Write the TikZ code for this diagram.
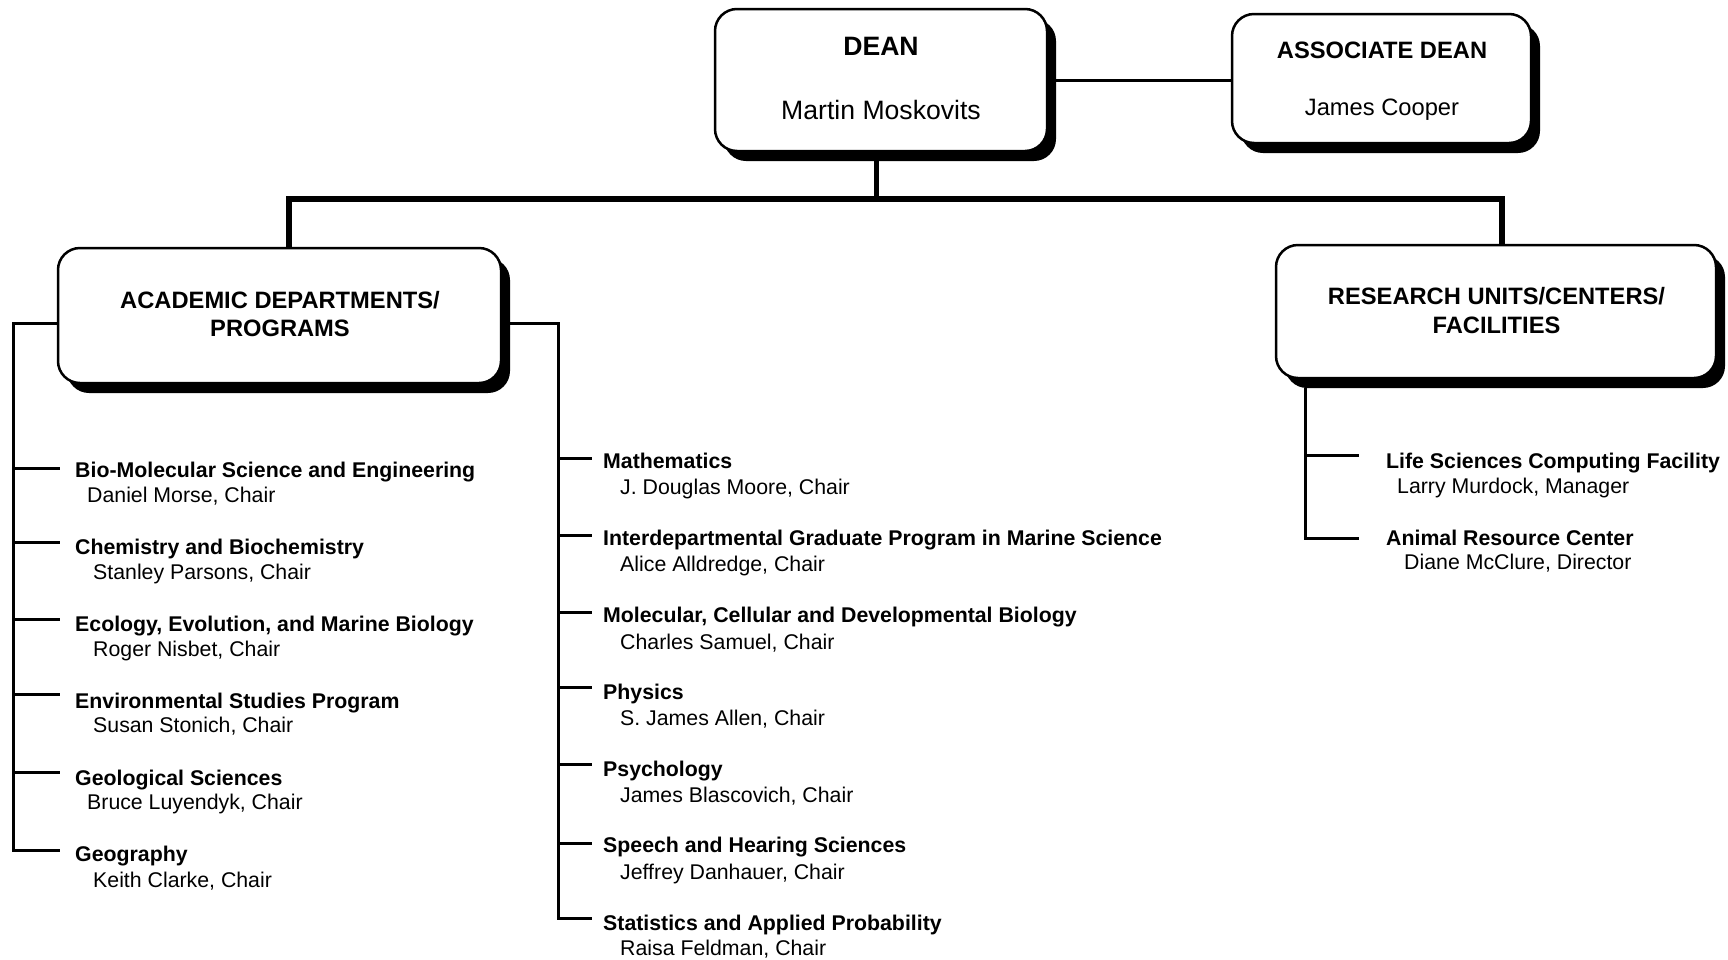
\documentclass[tikz,border=0pt]{standalone}
\usepackage{fontspec}
\setmainfont{Liberation Sans}
\usetikzlibrary{shadows}
\begin{document}
\begin{tikzpicture}[x=1pt,y=-1pt,
  box/.style={draw, line width=2.5pt, rounded corners=22pt, fill=white, inner sep=0pt,
    drop shadow={shadow xshift=9pt, shadow yshift=-10pt, opacity=1, fill=black}},
  dtitle/.style={anchor=base, inner sep=0pt, font=\fontsize{26.6}{30}\selectfont\bfseries},
  dname/.style={anchor=base, inner sep=0pt, font=\fontsize{26.6}{30}\selectfont},
  htitle/.style={anchor=base, inner sep=0pt, font=\fontsize{23.7}{28}\selectfont\bfseries},
  hname/.style={anchor=base, inner sep=0pt, font=\fontsize{23.7}{28}\selectfont},
  item/.style={anchor=base west, inner sep=0pt, font=\fontsize{21.3}{25}\selectfont\bfseries},
  sub/.style={anchor=base west, inner sep=0pt, font=\fontsize{21.3}{25}\selectfont},
  thin/.style={line width=3pt},
  thick/.style={line width=5.2pt}]
\fill[white] (0,0) rectangle (1728,959);
\useasboundingbox (0,0) rectangle (1728,959);

% boxes
\node[box, minimum width=332pt, minimum height=142pt] (dean) at (881,80) {};
\node[box, minimum width=299pt, minimum height=129pt] (assoc) at (1381.5,78.5) {};
\node[box, minimum width=443pt, minimum height=135pt] (acad) at (279.5,315.5) {};
\node[box, minimum width=440pt, minimum height=133pt] (res) at (1496,311.5) {};

% box texts
\node[dtitle] (deanT) at (881,55.5) {DEAN};
\node[dname] (deanN) at (881,119.5) {Martin Moskovits};
\node[htitle] (assocT) at (1382,58.5) {ASSOCIATE DEAN};
\node[hname] (assocN) at (1382,115.5) {James Cooper};
\node[htitle] (acadT1) at (280,308.5) {ACADEMIC DEPARTMENTS/};
\node[htitle] (acadT2) at (280,336.5) {PROGRAMS};
\node[htitle] (resT1) at (1496.5,304.5) {RESEARCH UNITS/CENTERS/};
\node[htitle] (resT2) at (1496.5,333.5) {FACILITIES};

% top connectors
\coordinate (bus) at (876.5,199);
\coordinate (busL) at (289,199);
\coordinate (busR) at (1502,199);
\draw[thin] (dean.east) -- (dean.east -| assoc.west);
\draw[thick] (dean.south -| bus) -- (bus);
\draw[thick, line cap=rect] (busL) -- (busR);
\draw[thick] (busL) -- (busL |- acad.north);
\draw[thick] (busR) -- (busR |- res.north);

% left column
\node[item] (l1) at (75,477) {Bio-Molecular Science and Engineering};
\node[sub] (l1s) at (87,502.4) {Daniel Morse, Chair};
\node[item] (l2) at (75,554) {Chemistry and Biochemistry};
\node[sub] (l2s) at (93,579.5) {Stanley Parsons, Chair};
\node[item] (l3) at (75,631) {Ecology, Evolution, and Marine Biology};
\node[sub] (l3s) at (93,656.6) {Roger Nisbet, Chair};
\node[item] (l4) at (75,708.5) {Environmental Studies Program};
\node[sub] (l4s) at (93,732.6) {Susan Stonich, Chair};
\node[item] (l5) at (75,785.5) {Geological Sciences};
\node[sub] (l5s) at (87,809.6) {Bruce Luyendyk, Chair};
\node[item] (l6) at (75,861.5) {Geography};
\node[sub] (l6s) at (93,887) {Keith Clarke, Chair};

\coordinate (LA) at (13,323);
\coordinate (lt1) at (60,468.4);
\coordinate (lt2) at (60,542.2);
\coordinate (lt3) at (60,619.3);
\coordinate (lt4) at (60,694.3);
\coordinate (lt5) at (60,772.5);
\coordinate (lt6) at (60,850.7);
\draw[thin, line join=miter] (acad.west |- LA) -- (LA) -- (LA |- lt6) -- (lt6);
\foreach \t in {lt1,lt2,lt3,lt4,lt5}
  \draw[thin] (LA |- \t) -- (\t);

% middle column
\node[item] (m1) at (603,468.2) {Mathematics};
\node[sub] (m1s) at (620,494.6) {J. Douglas Moore, Chair};
\node[item] (m2) at (603,545.4) {Interdepartmental Graduate Program in Marine Science};
\node[sub] (m2s) at (620,571.8) {Alice Alldredge, Chair};
\node[item] (m3) at (603,622.5) {Molecular, Cellular and Developmental Biology};
\node[sub] (m3s) at (620,649) {Charles Samuel, Chair};
\node[item] (m4) at (603,699.6) {Physics};
\node[sub] (m4s) at (620,725) {S. James Allen, Chair};
\node[item] (m5) at (603,776.8) {Psychology};
\node[sub] (m5s) at (620,802) {James Blascovich, Chair};
\node[item] (m6) at (603,852.8) {Speech and Hearing Sciences};
\node[sub] (m6s) at (620,879.3) {Jeffrey Danhauer, Chair};
\node[item] (m7) at (603,930) {Statistics and Applied Probability};
\node[sub] (m7s) at (620,955.3) {Raisa Feldman, Chair};

\coordinate (RA) at (558,323);
\coordinate (mt1) at (592,458.4);
\coordinate (mt2) at (592,535.6);
\coordinate (mt3) at (592,612.7);
\coordinate (mt4) at (592,687.6);
\coordinate (mt5) at (592,764.8);
\coordinate (mt6) at (592,843);
\coordinate (mt7) at (592,918);
\draw[thin, line join=miter] (acad.east |- RA) -- (RA) -- (RA |- mt7) -- (mt7);
\foreach \t in {mt1,mt2,mt3,mt4,mt5,mt6}
  \draw[thin] (RA |- \t) -- (\t);

% right column
\node[item] (r1) at (1386,468.2) {Life Sciences Computing Facility};
\node[sub] (r1s) at (1397,493.6) {Larry Murdock, Manager};
\node[item] (r2) at (1386,545.4) {Animal Resource Center};
\node[sub] (r2s) at (1404,569.6) {Diane McClure, Director};

\coordinate (RV) at (1305,388);
\coordinate (rt1) at (1359,455);
\coordinate (rt2) at (1359,538.9);
\draw[thin, line join=miter] (RV) -- (RV |- rt2) -- (rt2);
\draw[thin] (RV |- rt1) -- (rt1);
\end{tikzpicture}
\end{document}
